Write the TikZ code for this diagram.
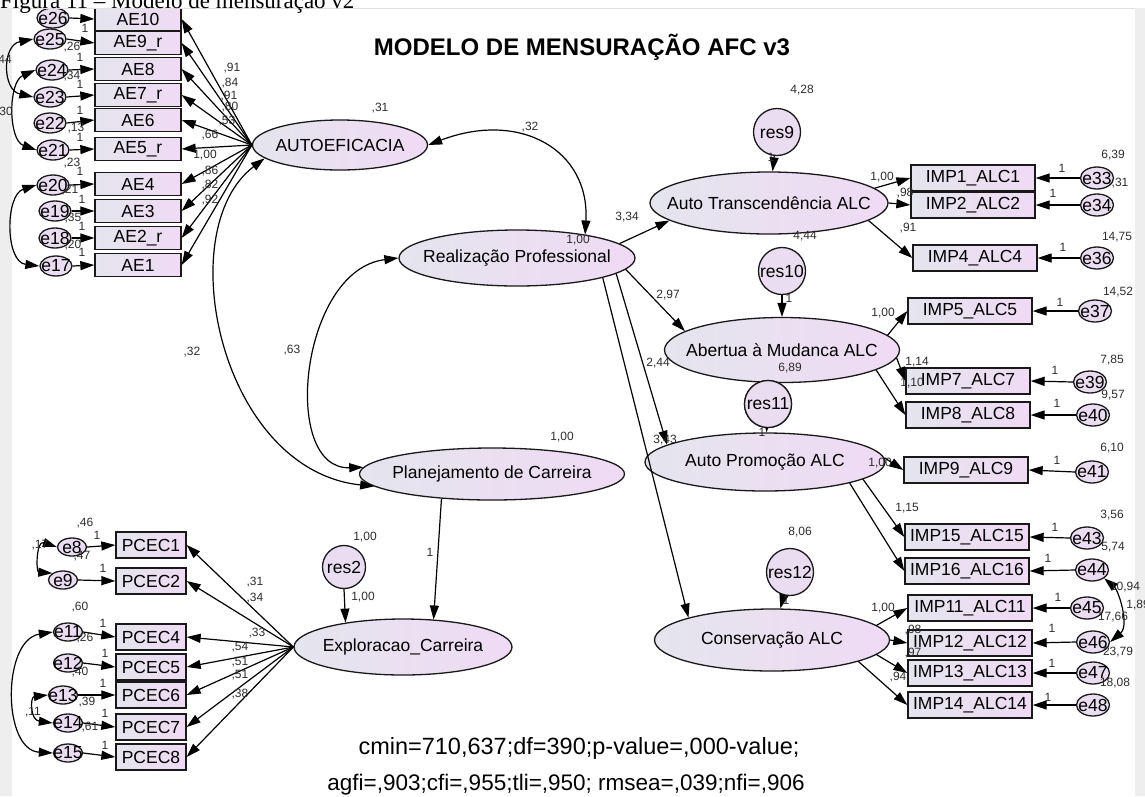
\documentclass[tikz,border=0pt]{standalone}
\usepackage{fontspec}
\setmainfont{Liberation Sans}
\newfontfamily\capfont{Liberation Serif}
\usetikzlibrary{arrows.meta,shapes.geometric}
\definecolor{boxL}{RGB}{228,229,237}
\definecolor{boxR}{RGB}{240,218,245}
\definecolor{errC}{RGB}{234,220,241}
\definecolor{frameG}{RGB}{238,238,238}
\definecolor{numC}{RGB}{45,45,45}
\newcommand{\fsz}[1]{\fontsize{#1}{#1}\selectfont}
\begin{document}
\begin{tikzpicture}[x=1pt,y=-1pt,
  obs/.style={draw=black!90,line width=1.3pt,rectangle,inner sep=0pt,left color=boxL,right color=boxR,font=\fsz{17.5}},
  aebox/.style={obs,minimum width=86pt,minimum height=23pt},
  pcbox/.style={obs,minimum width=70pt,minimum height=26pt},
  impbox/.style={obs,minimum width=124pt,minimum height=26pt},
  lat/.style={ellipse,draw=black!90,line width=1.3pt,inner sep=0pt,left color=boxL,right color=boxR},
  lt/.style={font=\fsz{17.5},inner sep=0pt},
  err/.style={ellipse,draw=black!90,line width=1.3pt,inner sep=0pt,fill=errC,minimum width=32pt,minimum height=20pt},
  errs/.style={err,minimum width=29pt,minimum height=18pt},
  resc/.style={circle,draw=black!90,line width=1.3pt,inner sep=0pt,fill=errC,minimum size=#1},
  sl/.style={font=\fsz{12},text=numC,inner sep=0pt},
  pth/.style={line width=1.2pt,-{Triangle[length=14pt,width=9pt]}},
  cov/.style={line width=1.2pt,{Triangle[length=14pt,width=9pt]}-{Triangle[length=14pt,width=9pt]}}
]
\useasboundingbox (0,0) rectangle (1145,796);
% window frame of the drawing area
\fill[frameG] (0,8) rectangle (12,796);
\fill[frameG] (1135,8) rectangle (1145,796);
\draw[black!12,line width=1.5pt] (12,8.7) -- (1135,8.7);
% caption of the figure (cut at the top)
\node[font=\capfont\fsz{23},anchor=base west,inner sep=0pt] (cap) at (0,8) {Figura 11 – Modelo de mensuração v2};

\begin{scope}
\clip (0,9.5) rectangle (1145,796);

% ---------- latent variables ----------
\node[lat,minimum width=175pt,minimum height=50pt,label={[lt]center:AUTOEFICACIA}] (AUTO) at (340,145) {};
\node[lat,minimum width=236pt,minimum height=56pt,label={[lt]center:Realização Professional}] (REAL) at (517,258) {};
\node[lat,minimum width=265pt,minimum height=52pt,label={[lt]center:Planejamento de Carreira}] (PL) at (492,474) {};
\node[lat,minimum width=218pt,minimum height=56pt,label={[lt]center:Exploracao\_Carreira}] (EX) at (403,647) {};
\node[lat,minimum width=238pt,minimum height=62pt,label={[lt]center:Auto Transcendência ALC}] (AT) at (769,203) {};
\node[lat,minimum width=235pt,minimum height=65pt,label={[lt]center:Abertua à Mudanca ALC}] (AB) at (782,350) {};
\node[lat,minimum width=240pt,minimum height=58pt,label={[lt]center:Auto Promoção ALC}] (AP) at (765,462) {};
\node[lat,minimum width=235pt,minimum height=62pt,label={[lt]center:Conservação ALC}] (CO) at (772,640) {};

% ---------- residuals of the latent variables ----------
\node[resc=47pt,font=\fsz{17.5}] (res9) at (777,132) {res9};
\node[resc=47pt,font=\fsz{17.5}] (res10) at (782,271) {res10};
\node[resc=47pt,font=\fsz{17.5}] (res11) at (768,404) {res11};
\node[resc=47pt,font=\fsz{17.5}] (res12) at (790,572) {res12};
\node[resc=43pt,font=\fsz{17.5}] (res2) at (344,567) {res2};

% ---------- AUTOEFICACIA indicators ----------
\foreach \n/\t/\y in {AE10/AE10/19,AE9r/AE9\_r/43,AE8/AE8/69,AE7r/AE7\_r/95,AE6/AE6/120,AE5r/AE5\_r/149,AE4/AE4/184,AE3/AE3/211,AE2r/AE2\_r/238,AE1/AE1/265}
  \node[aebox] (\n) at (138,\y) {\t};
\foreach \n/\x/\y in {e26/53/18,e25/50/39,e24/52/70,e23/50/97,e22/50/123,e21/53/150,e20/53/185,e19/55/211,e18/55/238,e17/56/266}
  \node[err,label={[lt]center:\n}] (\n) at (\x,\y) {};

% ---------- Exploracao_Carreira indicators ----------
\foreach \n/\y in {PCEC1/545,PCEC2/581,PCEC4/637,PCEC5/667,PCEC6/695,PCEC7/727,PCEC8/757}
  \node[pcbox] (\n) at (151,\y) {\n};
\foreach \n/\x/\y in {e8/72/547,e9/63/580,e11/68/632,e12/68/663,e13/63/695,e14/68/723,e15/68/753}
  \node[errs,label={[lt]center:\n}] (\n) at (\x,\y) {};

% ---------- ALC indicators ----------
\foreach \n/\t/\x/\y in {I1/IMP1\_ALC1/973/178,I2/IMP2\_ALC2/973/205,I4/IMP4\_ALC4/975/258,I5/IMP5\_ALC5/970/311,I7/IMP7\_ALC7/968/381,I8/IMP8\_ALC8/968/415,I9/IMP9\_ALC9/966/470,I15/IMP15\_ALC15/967/537,I16/IMP16\_ALC16/967/571,I11/IMP11\_ALC11/970/608,I12/IMP12\_ALC12/970/643,I13/IMP13\_ALC13/970/673,I14/IMP14\_ALC14/970/705}
  \node[impbox] (\n) at (\x,\y) {\t};
\foreach \n/\x/\y in {e33/1097/178,e34/1097/205,e36/1097/258,e37/1095/311,e39/1090/382,e40/1093/415,e41/1092/472,e43/1087/538,e44/1092/570,e45/1087/608,e46/1093/642,e47/1093/673,e48/1093/705}
  \node[err,minimum width=33pt,minimum height=22pt,label={[lt]center:\n}] (\n) at (\x,\y) {};

% ---------- error -> indicator paths ----------
\foreach \e/\b in {e26/AE10,e25/AE9r,e24/AE8,e23/AE7r,e22/AE6,e21/AE5r,e20/AE4,e19/AE3,e18/AE2r,e17/AE1,e8/PCEC1,e9/PCEC2,e11/PCEC4,e12/PCEC5,e13/PCEC6,e14/PCEC7,e15/PCEC8}
  \draw[pth] (\e.east) -- (\b.west);
\foreach \e/\b in {e33/I1,e34/I2,e36/I4,e37/I5,e39/I7,e40/I8,e41/I9,e43/I15,e44/I16,e45/I11,e46/I12,e47/I13,e48/I14}
  \draw[pth] (\e.west) -- (\b.east);

% ---------- loadings ----------
\foreach \b in {AE10,AE9r,AE8,AE7r,AE6,AE5r,AE4,AE3,AE2r,AE1}
  \draw[pth] (AUTO.west) -- (\b.east);
\foreach \b in {PCEC1,PCEC2,PCEC4,PCEC5,PCEC6,PCEC7,PCEC8}
  \draw[pth] (EX.west) -- (\b.east);
\draw[pth] (AT.8) -- (I1.west);
\draw[pth] (AT.0) -- (I2.west);
\draw[pth] (AT.-10) -- (I4.west);
\draw[pth] (AB.8) -- (I5.west);
\draw[pth] (AB.-4) -- (I7.west);
\draw[pth] (AB.-12) -- (I8.west);
\draw[pth] (AP.2) -- (I9.west);
\draw[pth] (AP.-10) -- (I15.west);
\draw[pth] (AP.-14) -- (I16.west);
\draw[pth] (CO.8) -- (I11.west);
\draw[pth] (CO.0) -- (I12.west);
\draw[pth] (CO.-8) -- (I13.west);
\draw[pth] (CO.-14) -- (I14.west);

% ---------- structural paths ----------
\draw[pth] (REAL.8) -- (AT.190);
\draw[pth] (REAL.-6) -- (AB.169);
\draw[pth] (REAL.-9) -- (AP.170);
\draw[pth] (REAL.-13) -- (CO.165);
\draw[pth] (PL.206) -- (EX.42);
\draw[pth] (res2.south) -- (EX.157);
\draw[pth] (res9) -- (AT);
\draw[pth] (res10) -- (AB);
\draw[pth] (res11) -- (AP);
\draw[pth] (res12) -- (CO);

% ---------- covariances ----------
\draw[cov] (AUTO.east) .. controls (520,110) and (590,150) .. (REAL.19);
\draw[cov] (AUTO.190) .. controls (170,230) and (220,470) .. (PL.186);
\draw[cov] (REAL.west) .. controls (300,270) and (280,470) .. (PL.177);
\draw[cov] (e25.west) .. controls (2,45) and (2,90) .. (e23.west);
\draw[cov] (e24.west) .. controls (8,82) and (8,140) .. (e21.west);
\draw[cov] (e20.west) .. controls (5,195) and (5,262) .. (e17.west);
\draw[cov] (e8.west) .. controls (36,540) and (36,572) .. (e9.north west);
\draw[cov] (e11.west) .. controls (2,640) and (2,750) .. (e15.west);
\draw[cov] (e13.west) .. controls (30,697) and (30,720) .. (e14.west);
\draw[cov] (e44.south east) .. controls (1118,590) and (1130,625) .. (e46.east);

% redraw residual on top of the ellipse it touches
\node[resc=47pt,font=\fsz{17.5}] (res11b) at (768,404) {res11};

% ---------- estimates ----------
\foreach \x/\y/\t [count=\i] in {
  232/68/{,91},230/83/{,84},229/96/{,91},230/107/{,80},227/121/{,53},
  210/135/{,66},205/155/{1,00},210/171/{,86},210/185/{,82},210/200/{,92},
  85/28/1,72/47/{,26},80/57/1,72/76/{,34},80/84/1,80/110/1,76/128/{,13},80/137/1,
  72/163/{,23},80/171/1,70/190/{,21},82/199/1,73/218/{,35},82/226/1,73/245/{,20},82/252/1,
  85/523/{,46},97/535/1,40/545/{,17},82/556/{,47},103/568/1,80/607/{,60},103/623/1,
  85/638/{,26},105/653/1,80/672/{,40},103/683/1,87/702/{,39},33/712/{,11},105/713/1,
  90/727/{,61},105/745/1,
  255/582/{,31},255/598/{,34},257/633/{,33},240/647/{,54},240/662/{,51},240/675/{,51},240/694/{,38},
  380/108/{,31},530/127/{,32},578/240/{1,00},292/350/{,63},192/352/{,32},562/437/{1,00},
  365/537/{1,00},363/597/{1,00},430/552/1,
  802/90/{4,28},771/157/1,627/217/{3,34},805/236/{4,44},789/298/1,668/295/{2,97},
  658/363/{2,44},790/368/{6,89},762/432/1,665/440/{3,43},800/532/{8,06},786/600/1,
  882/177/{1,00},905/193/{,98},908/228/{,91},883/313/{1,00},917/362/{1,14},912/383/{1,10},
  880/463/{1,00},907/508/{1,15},883/608/{1,00},913/630/{,98},913/653/{,97},898/677/{,94},
  1062/168/1,1113/155/{6,39},1120/183/{,31},1053/193/1,1063/247/1,1117/237/{14,75},
  1060/302/1,1118/292/{14,52},1055/370/1,1112/360/{7,85},1057/403/1,1113/395/{9,57},
  1057/460/1,1112/448/{6,10},1055/527/1,1112/515/{3,56},1048/558/1,1113/547/{5,74},
  1058/597/1,1125/587/{10,94},1138/605/{1,89},1052/628/1,1113/617/{17,66},
  1052/663/1,1118/652/{23,79},1048/697/1,1115/683/{18,08}}
  \node[sl] (est\i) at (\x,\y) {\t};
\node[sl,anchor=east] (cv44) at (12,60) {,44};
\node[sl,anchor=east] (cv30) at (13,112) {,30};

% ---------- title and fit indices ----------
\node[font=\fsz{24}\bfseries] (title) at (582,47) {MODELO DE MENSURAÇÃO AFC v3};
\node[font=\fsz{23.5}] (fit1) at (579,748) {cmin=710,637;df=390;p-value=,000-value;};
\node[font=\fsz{22.5}] (fit2) at (566,785) {agfi=,903;cfi=,955;tli=,950; rmsea=,039;nfi=,906};
\end{scope}
\end{tikzpicture}
\end{document}
